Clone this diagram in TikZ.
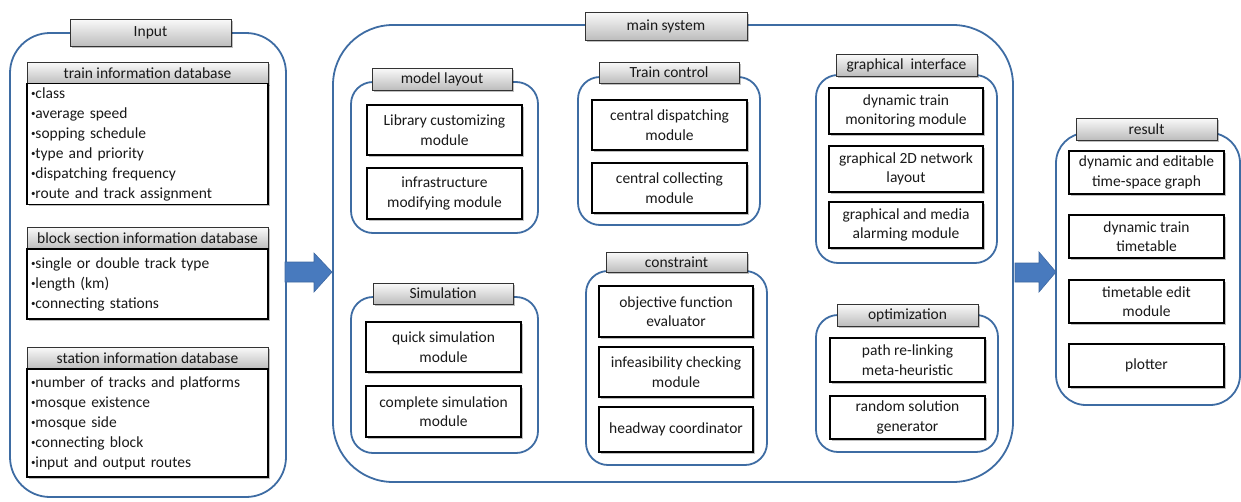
\documentclass[tikz,border=0pt]{standalone}
\usepackage{fontspec}
\setmainfont{Carlito}
\usetikzlibrary{shadows}

\definecolor{frameblue}{RGB}{62,108,163}
\definecolor{arrowblue}{RGB}{72,122,190}

\newcommand{\itemdot}{\raisebox{2pt}{\fontsize{9}{9}\selectfont•}}

\tikzset{
    group/.style={draw=frameblue, line width=1.8pt, rounded corners=#1},
    group/.default=20pt,
    softshadow/.style={drop shadow={opacity=0.25, shadow xshift=1.5pt, shadow yshift=-1.5pt, fill=black}},
    title/.style={draw=black!80, line width=0.9pt, top color=gray!4, bottom color=gray!52,
        softshadow, inner sep=0pt, font=\fontsize{15.5}{17}\selectfont, text=black!90},
    modbox/.style={draw=black, line width=1.3pt, fill=white, softshadow, inner sep=0pt,
        align=center, font=\fontsize{15.5}{19.5}\selectfont, text=black!90,
        minimum width=155pt, minimum height=50pt},
    listbox/.style={draw=black, line width=1.1pt, fill=white, softshadow, inner sep=4pt,
        align=left, text width=233pt, font=\fontsize{15.5}{20}\selectfont, text=black!90},
    blockarrow/.style={fill=arrowblue, draw=arrowblue!85!black, line width=0.6pt}
}

\begin{document}
\begin{tikzpicture}[x=1pt, y=-1pt]
    \useasboundingbox (0,0) rectangle (1241,501);

    % containers
    \draw[group=40pt] (10,33) rectangle (286,497);
    \draw[group=60pt] (333,25) rectangle (1013,482);
    \draw[group=22pt] (351,82) rectangle (538,233);
    \draw[group=22pt] (578,77) rectangle (760,225);
    \draw[group=22pt] (351,297) rectangle (538,453);
    \draw[group=22pt] (586,271) rectangle (767,465);
    \draw[group=22pt] (816,75) rectangle (997,263);
    \draw[group=22pt] (816,315) rectangle (998,452);
    \draw[group=30pt] (1056,133) rectangle (1240,405);

    % block arrows
    \draw[blockarrow] (285,262) -- (314,262) -- (314,253) -- (332,272) -- (314,292) -- (314,282) -- (285,282) -- cycle;
    \draw[blockarrow] (1015,263) -- (1039,263) -- (1039,252) -- (1056,272) -- (1039,292) -- (1039,282) -- (1015,282) -- cycle;

    % input
    \node[title, minimum width=161pt, minimum height=27pt] (input) at (150.5,32.5) {Input};
    \node[title, minimum width=241pt, minimum height=22pt] (traindb) at (147.5,73) {train information database};
    \node[listbox, minimum height=120pt] (trainlist) at (147.5,144) {%
        \itemdot class\\ \itemdot average speed\\ \itemdot sopping schedule\\ \itemdot type and priority\\
        \itemdot dispatching frequency\\ \itemdot route and track assignment};
    \node[title, minimum width=241pt, minimum height=22pt] (blockdb) at (147.5,238) {block section information database};
    \node[listbox, minimum height=70pt] (blocklist) at (147.5,284) {%
        \itemdot single or double track type\\ \itemdot length (km)\\ \itemdot connecting stations};
    \node[title, minimum width=241pt, minimum height=22pt] (stationdb) at (147.5,358) {station information database};
    \node[listbox, minimum height=108pt] (stationlist) at (147.5,423) {%
        \itemdot number of tracks and platforms\\ \itemdot mosque existence\\ \itemdot mosque side\\
        \itemdot connecting block\\ \itemdot input and output routes};

    % main system
    \node[title, minimum width=162pt, minimum height=28pt] (mainsys) at (666,26) {main system};

    \node[title, minimum width=140pt, minimum height=22pt] (layout) at (442,79) {model layout};
    \node[modbox] (library) at (444.5,130) {Library customizing\\ module};
    \node[modbox, minimum height=51pt] (infra) at (444.5,193.5) {infrastructure\\ modifying module};

    \node[title, minimum width=140pt, minimum height=21pt] (control) at (669,72.5) {Train control};
    \node[modbox] (dispatch) at (669.5,125) {central dispatching\\ module};
    \node[modbox] (collect) at (669.5,188) {central collecting\\ module};

    \node[title, minimum width=140pt, minimum height=21pt] (simul) at (443,293.5) {Simulation};
    \node[modbox] (quick) at (443.5,347) {quick simulation\\ module};
    \node[modbox, minimum height=51pt] (complete) at (443.5,411.5) {complete simulation\\ module};

    \node[title, minimum width=141pt, minimum height=20pt] (constr) at (676.5,262) {constraint};
    \node[modbox, minimum width=154pt, minimum height=51pt] (objective) at (676,311.5) {objective function\\ evaluator};
    \node[modbox, minimum width=154pt] (infeas) at (676,372) {infeasibility checking\\ module};
    \node[modbox, minimum width=154pt, minimum height=45pt] (headway) at (676,429.5) {headway coordinator};

    \node[title, minimum width=141pt, minimum height=22pt] (graphic) at (906.5,65) {graphical\ \ interface};
    \node[modbox, minimum width=154pt, minimum height=46pt] (monitor) at (906,111) {dynamic train\\ monitoring module};
    \node[modbox, minimum width=154pt, minimum height=46pt] (network) at (906,169) {graphical 2D network\\ layout};
    \node[modbox, minimum width=154pt, minimum height=46pt] (alarm) at (906,225) {graphical and media\\ alarming module};

    \node[title, minimum width=141pt, minimum height=22pt] (optim) at (907.5,315) {optimization};
    \node[modbox, minimum height=44pt] (relink) at (907.5,360) {path re-linking\\ meta-heuristic};
    \node[modbox, minimum height=43pt] (random) at (907.5,417.5) {random solution\\ generator};

    % result
    \node[title, minimum width=141pt, minimum height=22pt] (result) at (1146.5,129) {result};
    \node[modbox, minimum height=43pt] (tsgraph) at (1146.5,172.5) {dynamic and editable\\ time-space graph};
    \node[modbox, minimum height=43pt] (timetable) at (1146.5,236.5) {dynamic train\\ timetable};
    \node[modbox, minimum height=43pt] (ttedit) at (1146.5,301.5) {timetable edit\\ module};
    \node[modbox, minimum height=43pt] (plotter) at (1146.5,365.5) {plotter};
\end{tikzpicture}
\end{document}
